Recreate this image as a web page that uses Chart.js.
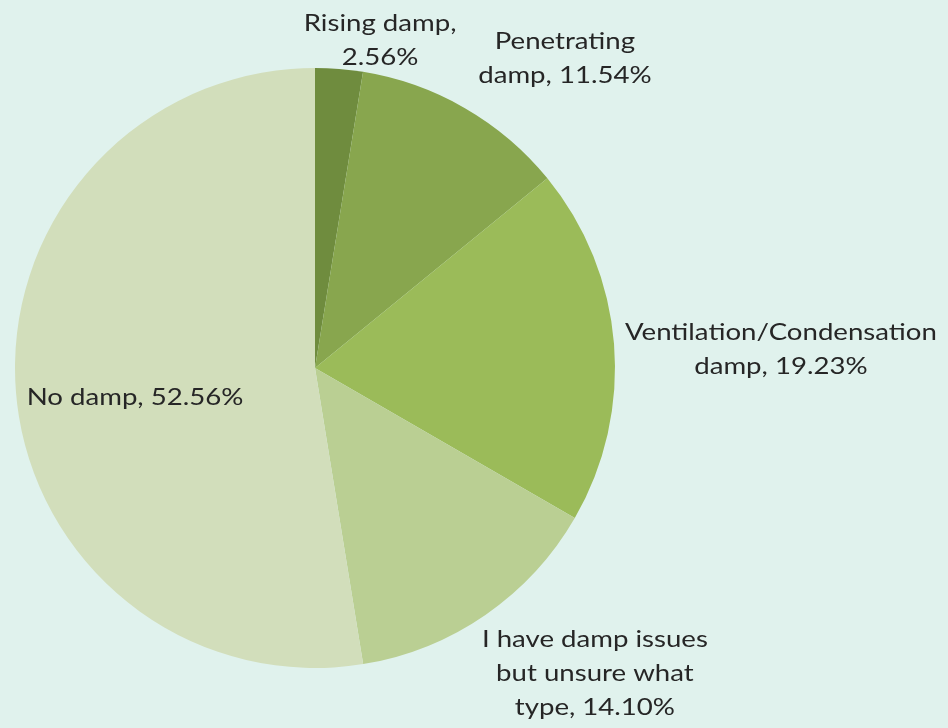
<!DOCTYPE html>
<html>
<head>
<meta charset="utf-8">
<script src="https://cdn.jsdelivr.net/npm/chart.js@4/dist/chart.umd.min.js"></script>
<style>
  html, body { margin: 0; padding: 0; background: #e0f2ed; }
  #wrap { width: 948px; height: 728px; position: relative; }
</style>
</head>
<body>
<div id="wrap"><canvas id="dampChart"></canvas></div>
<script>
const categories = [
    'Rising damp',
    'Penetrating damp',
    'Ventilation/Condensation damp',
    'I have damp issues but unsure what type',
    'No damp'
];
const shares = [2.56, 11.54, 19.23, 14.10, 52.56];

// label text broken into lines the way they sit around the pie
const labelLines = [
    ['Rising damp,', '2.56%'],
    ['Penetrating', 'damp, 11.54%'],
    ['Ventilation/Condensation', 'damp, 19.23%'],
    ['I have damp issues', 'but unsure what', 'type, 14.10%'],
    ['No damp, 52.56%']
];

const sliceColors = ['#6f8c3e', '#88a64e', '#9bbb59', '#bacf93', '#d2debb'];

// label centres, as fractions of the radius from the pie centre
const labelOffsets = [
    [0.217, -1.093],
    [0.833, -1.033],
    [1.553, -0.06],
    [0.933, 1.02],
    [-0.6, 0.097]
];

// text is drawn a little wider than the font's natural width
const textStretch = 1.2;

const sliceLabels = {
    id: 'sliceLabels',
    afterDatasetsDraw(chart) {
        const ctx = chart.ctx;
        const arcs = chart.getDatasetMeta(0).data;
        const lineH = 34;
        arcs.forEach((arc, i) => {
            const r = arc.outerRadius;
            const cx = arc.x + r * labelOffsets[i][0];
            const cy = arc.y + r * labelOffsets[i][1];
            const lines = labelLines[i];
            const top = cy - (lines.length - 1) * lineH / 2;
            ctx.save();
            ctx.translate(cx, 0);
            ctx.scale(textStretch, 1);
            ctx.font = '23px Lato, "Open Sans", sans-serif';
            ctx.fillStyle = '#262626';
            ctx.textAlign = 'center';
            ctx.textBaseline = 'middle';
            lines.forEach((t, j) => ctx.fillText(t, 0, top + j * lineH));
            ctx.restore();
        });
    }
};

new Chart(document.getElementById('dampChart').getContext('2d'), {
    type: 'pie',
    data: {
        labels: categories,
        datasets: [{
            data: shares,
            backgroundColor: sliceColors,
            borderWidth: 0
        }]
    },
    options: {
        responsive: true,
        maintainAspectRatio: false,
        animation: false,
        layout: { padding: { left: 15, right: 333, top: 68, bottom: 60 } },
        plugins: {
            legend: { display: false },
            tooltip: { enabled: false }
        }
    },
    plugins: [sliceLabels]
});
</script>
</body>
</html>
